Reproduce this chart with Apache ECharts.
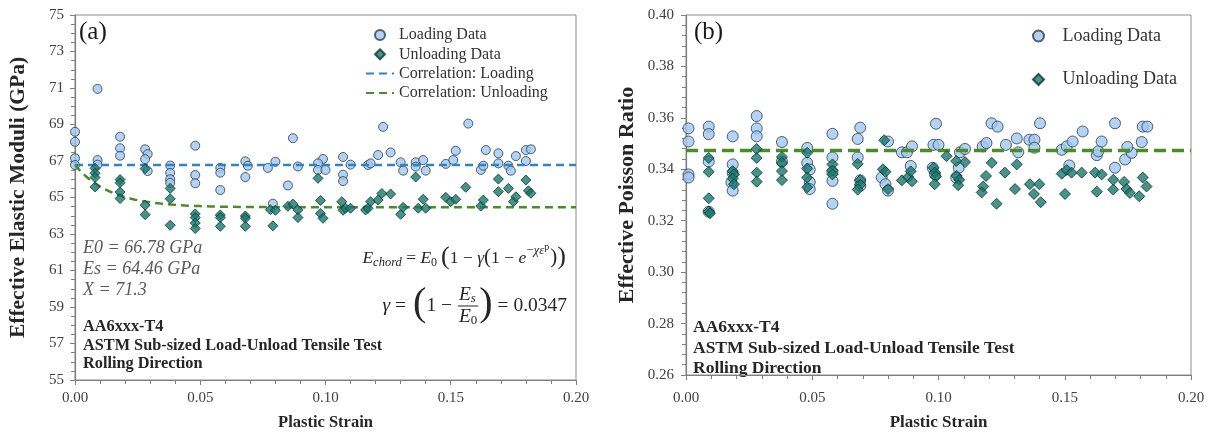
<!DOCTYPE html>
<html>
<head>
<meta charset="utf-8">
<script src="https://cdn.jsdelivr.net/npm/echarts@6/dist/echarts.min.js"></script>
<style>
  html, body { margin: 0; padding: 0; background: #ffffff; }
  #chart { width: 1215px; height: 436px; }
</style>
</head>
<body>
<div id="chart"></div>
<script>
// ---- Panel (a): effective elastic modulus vs plastic strain ----
// Fitted constants of the chord-modulus correlation
const E0 = 66.78;     // GPa
const ES = 64.46;     // GPa
const CHI = 71.3;
const GAMMA = 0.0347;

// Loading data: [plastic strain, modulus GPa]
const loadingA = [
  [0.000, 68.60], [0.000, 68.05], [0.000, 67.15], [0.000, 66.78],
  [0.009, 70.95], [0.009, 67.05], [0.009, 66.80],
  [0.018, 68.33], [0.018, 67.70], [0.018, 67.29],
  [0.028, 67.64], [0.029, 67.38], [0.028, 67.10], [0.029, 66.45],
  [0.038, 66.75], [0.038, 66.35], [0.038, 66.00], [0.038, 65.80],
  [0.048, 67.84], [0.048, 66.23], [0.048, 65.78],
  [0.058, 66.62], [0.058, 66.36], [0.058, 65.41],
  [0.068, 66.98], [0.069, 66.74], [0.068, 66.12],
  [0.080, 66.96], [0.077, 66.62], [0.079, 64.66],
  [0.087, 68.25], [0.089, 66.70], [0.085, 65.66],
  [0.099, 67.11], [0.097, 66.87], [0.097, 66.51], [0.100, 66.51],
  [0.107, 67.22], [0.110, 66.80], [0.107, 66.25], [0.107, 65.90],
  [0.117, 66.78], [0.118, 66.87], [0.121, 67.33], [0.123, 68.87], [0.126, 67.47],
  [0.130, 66.93], [0.131, 66.47], [0.136, 66.93], [0.136, 66.69], [0.139, 67.05], [0.140, 66.47],
  [0.148, 66.84], [0.151, 67.05], [0.152, 67.56], [0.157, 69.05],
  [0.162, 66.51], [0.163, 66.74], [0.164, 67.60], [0.169, 66.87], [0.169, 67.42],
  [0.173, 66.74], [0.174, 66.47], [0.176, 67.27], [0.180, 67.00], [0.180, 67.60], [0.182, 67.64]
];

// Unloading data: [plastic strain, modulus GPa]
const unloadingA = [
  [0.008, 66.60], [0.008, 66.33], [0.008, 66.10], [0.008, 65.58],
  [0.018, 65.98], [0.018, 65.81], [0.018, 65.30], [0.018, 64.94],
  [0.028, 66.58], [0.028, 64.58], [0.028, 64.06],
  [0.038, 65.50], [0.038, 64.93], [0.038, 63.48],
  [0.048, 64.10], [0.048, 63.90], [0.048, 63.60], [0.048, 63.30],
  [0.058, 64.04], [0.058, 63.90], [0.058, 63.42],
  [0.068, 63.99], [0.068, 63.86], [0.068, 63.42],
  [0.078, 64.33], [0.080, 64.30], [0.079, 63.45],
  [0.085, 64.52], [0.087, 64.64], [0.089, 64.32], [0.089, 63.90],
  [0.097, 66.05], [0.098, 64.84], [0.098, 64.13], [0.099, 63.86],
  [0.1065, 64.77], [0.107, 64.30], [0.108, 64.41], [0.110, 64.41],
  [0.116, 64.32], [0.117, 64.41], [0.118, 64.77], [0.121, 64.86], [0.1225, 65.22], [0.126, 65.19],
  [0.130, 64.08], [0.131, 64.46],
  [0.136, 66.12], [0.137, 64.41], [0.139, 64.90], [0.140, 64.41],
  [0.148, 65.01], [0.150, 64.77], [0.152, 64.90], [0.156, 65.56],
  [0.162, 64.53], [0.163, 64.86], [0.169, 66.01], [0.169, 65.32], [0.173, 65.50],
  [0.175, 64.77], [0.176, 65.04], [0.180, 65.96], [0.181, 65.37], [0.182, 65.23]
];

// ---- Panel (b): effective Poisson ratio vs plastic strain ----
const loadingB = [
  [0.001, 0.3559], [0.001, 0.3508], [0.001, 0.3380], [0.001, 0.3368],
  [0.009, 0.3566], [0.009, 0.3537], [0.009, 0.3430], [0.009, 0.3235],
  [0.0185, 0.3528], [0.0185, 0.3419], [0.0185, 0.3385], [0.018, 0.3349], [0.0185, 0.3317],
  [0.028, 0.3607], [0.028, 0.3559], [0.028, 0.3528],
  [0.038, 0.3506], [0.038, 0.3430],
  [0.048, 0.3483], [0.048, 0.3425], [0.049, 0.3399], [0.049, 0.3350], [0.049, 0.3323],
  [0.058, 0.3538], [0.058, 0.3446], [0.058, 0.3390], [0.058, 0.3355], [0.058, 0.3266],
  [0.069, 0.3562], [0.068, 0.3518], [0.068, 0.3446], [0.069, 0.3357], [0.069, 0.3336],
  [0.080, 0.3508], [0.0775, 0.3368], [0.079, 0.3342], [0.080, 0.3317],
  [0.0855, 0.3466], [0.0875, 0.3466], [0.0895, 0.3489], [0.089, 0.3413],
  [0.099, 0.3577], [0.098, 0.3495], [0.100, 0.3495], [0.0977, 0.3406], [0.0986, 0.3380],
  [0.1085, 0.3466], [0.1105, 0.3479], [0.108, 0.3406], [0.107, 0.3368],
  [0.1175, 0.3489], [0.119, 0.3502], [0.121, 0.3579], [0.1234, 0.3566],
  [0.1267, 0.3495], [0.131, 0.3520], [0.1316, 0.3466],
  [0.136, 0.3515], [0.138, 0.3515], [0.1402, 0.3579], [0.138, 0.3484],
  [0.1488, 0.3476], [0.1508, 0.3489], [0.1531, 0.3508], [0.1571, 0.3547], [0.1518, 0.3415],
  [0.1627, 0.3455], [0.1633, 0.3470], [0.1646, 0.3508], [0.1699, 0.3579], [0.1699, 0.3406],
  [0.1739, 0.3438], [0.1765, 0.3464], [0.1748, 0.3487], [0.1805, 0.3506], [0.1809, 0.3566], [0.1827, 0.3566]
];

const unloadingB = [
  [0.009, 0.3444], [0.009, 0.3390], [0.009, 0.3287], [0.009, 0.3236], [0.0095, 0.3229],
  [0.0185, 0.3393], [0.019, 0.3380], [0.0185, 0.3364], [0.019, 0.3342],
  [0.028, 0.3479], [0.028, 0.3444], [0.028, 0.3387], [0.028, 0.3352],
  [0.038, 0.3448], [0.038, 0.3425], [0.038, 0.3393], [0.038, 0.3358],
  [0.048, 0.3464], [0.048, 0.3403], [0.048, 0.3368], [0.048, 0.3330],
  [0.058, 0.3419], [0.058, 0.3395], [0.058, 0.3380],
  [0.068, 0.3421], [0.069, 0.3358], [0.069, 0.3340], [0.068, 0.3321],
  [0.0785, 0.3513], [0.078, 0.3400], [0.079, 0.3390], [0.080, 0.3323],
  [0.0855, 0.3357], [0.088, 0.3370], [0.089, 0.3392], [0.0895, 0.3353],
  [0.098, 0.3406], [0.0985, 0.3387], [0.099, 0.3372], [0.0985, 0.3342],
  [0.1032, 0.3451],
  [0.107, 0.3432], [0.1105, 0.3428], [0.1072, 0.3374], [0.1082, 0.3359], [0.1078, 0.3338],
  [0.1211, 0.3425], [0.1188, 0.3374], [0.1177, 0.3333], [0.1171, 0.3310], [0.123, 0.3266],
  [0.1263, 0.3387], [0.131, 0.3419], [0.1303, 0.3323],
  [0.1362, 0.3342], [0.1399, 0.3342], [0.1378, 0.3304], [0.1405, 0.3272],
  [0.1488, 0.3383], [0.1508, 0.3397], [0.1527, 0.3387], [0.1567, 0.3387], [0.1501, 0.3304],
  [0.162, 0.3387], [0.1646, 0.3380], [0.1627, 0.3313],
  [0.1692, 0.3359], [0.1735, 0.3351], [0.1692, 0.3321], [0.1745, 0.3323], [0.1758, 0.3308],
  [0.1795, 0.3295], [0.1809, 0.3368], [0.1824, 0.3333]
];

// Average Poisson ratio drawn as a flat reference line
const NU_MEAN = 0.3473;

// Axis ranges
const strainRange = [0, 0.20, 0.05];
const modulusRange = [55, 75, 2];
const poissonRange = [0.26, 0.40, 0.02];

// Text blocks
const specimenLines = ['AA6xxx-T4', 'ASTM Sub-sized Load-Unload Tensile Test', 'Rolling Direction'];
const fitLines = ['E0 = 66.78 GPa', 'Es = 64.46 GPa', 'X = 71.3'];

// Correlation curves built from the fitted constants
const loadingFit = [[strainRange[0], E0], [strainRange[1], E0]];
const unloadingFit = [];
for (let i = 0; i <= 100; i++) {
  const e = i * 0.002;
  unloadingFit.push([e, E0 * (1 - GAMMA * (1 - Math.exp(-CHI * e)))]);
}
const poissonFit = [[strainRange[0], NU_MEAN], [strainRange[1], NU_MEAN]];

// ---- styling ----
const SERIF = "'Liberation Serif', 'Times New Roman', serif";
const AXIS_GREY = '#7f7f7f';
const TEXT_DARK = '#262626';
const CIRCLE_FILL = '#9fc8f0';
const CIRCLE_EDGE = '#2e3b48';
const DIAMOND_FILL = '#17786b';
const DIAMOND_EDGE = '#0c3631';
const BLUE_DASH = '#2b86c9';
const GREEN_DASH = '#4b8c2a';
const DIAMOND_ICON = 'path://M0,-1L1,0L0,1L-1,0Z';

function axisCommon() {
  return {
    axisLine: { show: true, onZero: false, lineStyle: { color: AXIS_GREY, width: 1.2 } },
    axisTick: { show: true, length: 5, lineStyle: { color: AXIS_GREY } },
    minorTick: { show: true, length: 4, lineStyle: { color: AXIS_GREY } },
    splitLine: { show: false },
    minorSplitLine: { show: false },
    axisLabel: { fontFamily: SERIF, fontSize: 15, color: '#404040' },
    nameTextStyle: { fontFamily: SERIF, fontSize: 15, fontWeight: 'bold', color: TEXT_DARK }
  };
}

function xAxis(gridIndex, nameSize, nameGap, labelMargin) {
  const c = axisCommon();
  c.minorTick.splitNumber = 5;
  return Object.assign(c, {
    type: 'value', gridIndex,
    min: strainRange[0], max: strainRange[1], interval: strainRange[2],
    name: 'Plastic Strain', nameLocation: 'middle', nameGap,
    nameTextStyle: Object.assign(c.nameTextStyle, { fontSize: nameSize }),
    axisLabel: Object.assign(c.axisLabel, { margin: labelMargin, formatter: v => v.toFixed(2) })
  });
}

// Math/annotation text helper: lays out runs of differently sized pieces
const measureCtx = document.createElement('canvas').getContext('2d');
function textWidth(t, size, italic, bold) {
  measureCtx.font = (italic ? 'italic ' : '') + (bold ? 'bold ' : '') + size + "px 'Liberation Serif'";
  return measureCtx.measureText(t).width;
}
function piece(t, size, opt) {
  opt = opt || {};
  return { t, size, italic: !!opt.i, dy: opt.dy || 0, gap: opt.gap || 0 };
}
function layoutRun(rightX, yMid, pieces, color) {
  let total = 0;
  pieces.forEach(p => { total += p.gap + textWidth(p.t, p.size, p.italic); });
  let x = rightX - total;
  const els = [];
  pieces.forEach(p => {
    x += p.gap;
    els.push({
      type: 'text', x, y: yMid + p.dy, silent: true,
      style: { text: p.t, fontFamily: SERIF, fontSize: p.size, fontStyle: p.italic ? 'italic' : 'normal',
               fill: color, align: 'left', verticalAlign: 'middle' }
    });
    x += textWidth(p.t, p.size, p.italic);
  });
  return els;
}

// E_chord = E_0 (1 - γ(1 - e^{-χ ε^p}))
const eqColor = '#262626';
const eq1 = layoutRun(566, 258, [
  piece('E', 17.5, { i: 1 }), piece('chord', 12.5, { i: 1, dy: 5 }),
  piece(' = ', 17.5), piece('E', 17.5, { i: 1 }), piece('0', 12, { dy: 5 }),
  piece('(', 26, { gap: 4, dy: -1 }), piece('1 − ', 17.5), piece('γ', 17.5, { i: 1 }),
  piece('(', 21, { dy: -1 }), piece('1 − ', 17.5), piece('e', 17.5, { i: 1 }),
  piece('−', 13, { dy: -7 }), piece('χε', 13, { i: 1, dy: -7 }), piece('p', 10, { dy: -11 }),
  piece(')', 21, { gap: 1, dy: -1 }), piece(')', 26, { dy: -1 })
], eqColor);

// γ = (1 - E_s / E_0) = 0.0347
function gammaEquation(rightX, yMid) {
  const parts = [];
  const fs = 19.5;
  const ps = 40;
  const tail = ' = 0.0347';
  const wTail = textWidth(tail, fs);
  const wParen = textWidth(')', ps);
  const wE = textWidth('E', fs, true);
  const wFrac = wE + textWidth('0', 13);
  const wOne = textWidth('1 − ', fs);
  const wHead = textWidth('γ = ', fs, true);
  let x = rightX - (wHead + wParen * 2 + wOne + wFrac + 4 + wTail);
  const t = (text, xx, yy, size, italic) => ({
    type: 'text', x: xx, y: yy, silent: true,
    style: { text, fontFamily: SERIF, fontSize: size, fontStyle: italic ? 'italic' : 'normal',
             fill: eqColor, align: 'left', verticalAlign: 'middle' }
  });
  parts.push(t('γ', x, yMid, fs, true));
  parts.push(t(' = ', x + textWidth('γ', fs, true), yMid, fs, false));
  x += wHead;
  parts.push(t('(', x, yMid - 2, ps, false)); x += wParen;
  parts.push(t('1 − ', x, yMid, fs, false)); x += wOne;
  const fx = x + 2;
  parts.push(t('E', fx, yMid - 11, fs, true));
  parts.push(t('s', fx + wE, yMid - 7, 13, true));
  parts.push({ type: 'line', silent: true, shape: { x1: fx - 1, y1: yMid, x2: fx + wFrac + 1, y2: yMid },
               style: { stroke: eqColor, lineWidth: 1 } });
  parts.push(t('E', fx, yMid + 11, fs, true));
  parts.push(t('0', fx + wE, yMid + 15, 13, false));
  x += wFrac + 4;
  parts.push(t(')', x, yMid - 2, ps, false)); x += wParen;
  parts.push(t(tail, x, yMid, fs, false));
  return parts;
}
const eq2 = gammaEquation(567, 306);

function textLines(x, ys, lines, size, style) {
  return lines.map((s, i) => ({
    type: 'text', x, y: ys[i], silent: true,
    style: Object.assign({ text: s, fontFamily: SERIF, fontSize: size, align: 'left', verticalAlign: 'middle' }, style)
  }));
}

const graphics = [
  { type: 'text', x: 79, y: 32, silent: true,
    style: { text: '(a)', fontFamily: SERIF, fontSize: 25, fill: '#1a1a1a', verticalAlign: 'middle' } },
  { type: 'text', x: 694, y: 32, silent: true,
    style: { text: '(b)', fontFamily: SERIF, fontSize: 25, fill: '#1a1a1a', verticalAlign: 'middle' } }
]
  .concat(textLines(83, [248, 269, 290], fitLines, 18, { fontStyle: 'italic', fill: '#595959' }))
  .concat(textLines(83, [327, 346, 364], specimenLines, 16.3, { fontWeight: 'bold', fill: TEXT_DARK }))
  .concat(textLines(693, [327, 348, 368], specimenLines, 17.5, { fontWeight: 'bold', fill: TEXT_DARK }))
  .concat(eq1).concat(eq2);

const yA = axisCommon();
yA.minorTick.splitNumber = 4;
const yB = axisCommon();
yB.minorTick.splitNumber = 5;

const option = {
  backgroundColor: '#ffffff',
  animation: false,
  grid: [
    { left: 75, top: 15, width: 501, height: 365, show: true, borderColor: '#8c8c8c', borderWidth: 1 },
    { left: 686, top: 15, width: 505, height: 365, show: true, borderColor: '#8c8c8c', borderWidth: 1 }
  ],
  xAxis: [xAxis(0, 16.5, 34, 11), xAxis(1, 17, 39, 16)],
  yAxis: [
    Object.assign(yA, {
      type: 'value', gridIndex: 0, min: modulusRange[0], max: modulusRange[1], interval: modulusRange[2],
      name: 'Effective Elastic Moduli (GPa)', nameLocation: 'middle', nameGap: 46,
      nameTextStyle: Object.assign(yA.nameTextStyle, { fontSize: 21.5 }),
      axisLabel: Object.assign(yA.axisLabel, { margin: 11 })
    }),
    Object.assign(yB, {
      type: 'value', gridIndex: 1, min: poissonRange[0], max: poissonRange[1], interval: poissonRange[2],
      name: 'Effective Poisson Ratio', nameLocation: 'middle', nameGap: 48,
      nameTextStyle: Object.assign(yB.nameTextStyle, { fontSize: 22 }),
      axisLabel: Object.assign(yB.axisLabel, { margin: 12, formatter: v => v.toFixed(2) })
    })
  ],
  legend: [
    {
      data: [
        { name: 'Loading Data', icon: 'circle' },
        { name: 'Unloading Data', icon: DIAMOND_ICON },
        { name: 'Correlation: Loading', itemStyle: { opacity: 0 } },
        { name: 'Correlation: Unloading', itemStyle: { opacity: 0 } }
      ],
      orient: 'vertical', left: 360, top: 22, itemWidth: 28, itemHeight: 10, itemGap: 3.3,
      symbolKeepAspect: true,
      textStyle: { fontFamily: SERIF, fontSize: 16, color: '#333333' }, selectedMode: false
    },
    {
      data: [
        { name: 'Loading Data', icon: 'circle' },
        { name: 'Unloading Data', icon: DIAMOND_ICON }
      ],
      orient: 'vertical', left: 1027, top: 22, itemWidth: 38, itemHeight: 11, itemGap: 25.5,
      symbolKeepAspect: true,
      textStyle: { fontFamily: SERIF, fontSize: 18, color: '#333333' }, selectedMode: false
    }
  ],
  series: [
    {
      name: 'Loading Data', type: 'scatter', xAxisIndex: 0, yAxisIndex: 0, data: loadingA,
      symbol: 'circle', symbolSize: 9, z: 2,
      itemStyle: { color: CIRCLE_FILL, borderColor: CIRCLE_EDGE, borderWidth: 1 }
    },
    {
      name: 'Unloading Data', type: 'scatter', xAxisIndex: 0, yAxisIndex: 0, data: unloadingA,
      symbol: 'diamond', symbolSize: 10, z: 4,
      itemStyle: { color: DIAMOND_FILL, borderColor: DIAMOND_EDGE, borderWidth: 1 }
    },
    {
      name: 'Correlation: Loading', type: 'line', xAxisIndex: 0, yAxisIndex: 0, data: loadingFit,
      symbol: 'none', z: 3, lineStyle: { color: BLUE_DASH, width: 2.5, type: [8, 5] },
      itemStyle: { color: BLUE_DASH }
    },
    {
      name: 'Correlation: Unloading', type: 'line', xAxisIndex: 0, yAxisIndex: 0, data: unloadingFit,
      symbol: 'none', z: 3, lineStyle: { color: GREEN_DASH, width: 2.5, type: [8, 5] },
      itemStyle: { color: GREEN_DASH }
    },
    {
      name: 'Loading Data', type: 'scatter', xAxisIndex: 1, yAxisIndex: 1, data: loadingB,
      symbol: 'circle', symbolSize: 11, z: 2,
      itemStyle: { color: CIRCLE_FILL, borderColor: CIRCLE_EDGE, borderWidth: 1 }
    },
    {
      name: 'Unloading Data', type: 'scatter', xAxisIndex: 1, yAxisIndex: 1, data: unloadingB,
      symbol: 'diamond', symbolSize: 11, z: 4,
      itemStyle: { color: DIAMOND_FILL, borderColor: DIAMOND_EDGE, borderWidth: 1 }
    },
    {
      name: 'Mean Poisson Ratio', type: 'line', xAxisIndex: 1, yAxisIndex: 1, data: poissonFit,
      symbol: 'none', z: 3, lineStyle: { color: GREEN_DASH, width: 3.5, type: [12, 6] }
    }
  ],
  graphic: graphics
};

const chart = echarts.init(document.getElementById('chart'), null, { renderer: 'canvas' });
chart.setOption(option);
</script>
</body>
</html>
